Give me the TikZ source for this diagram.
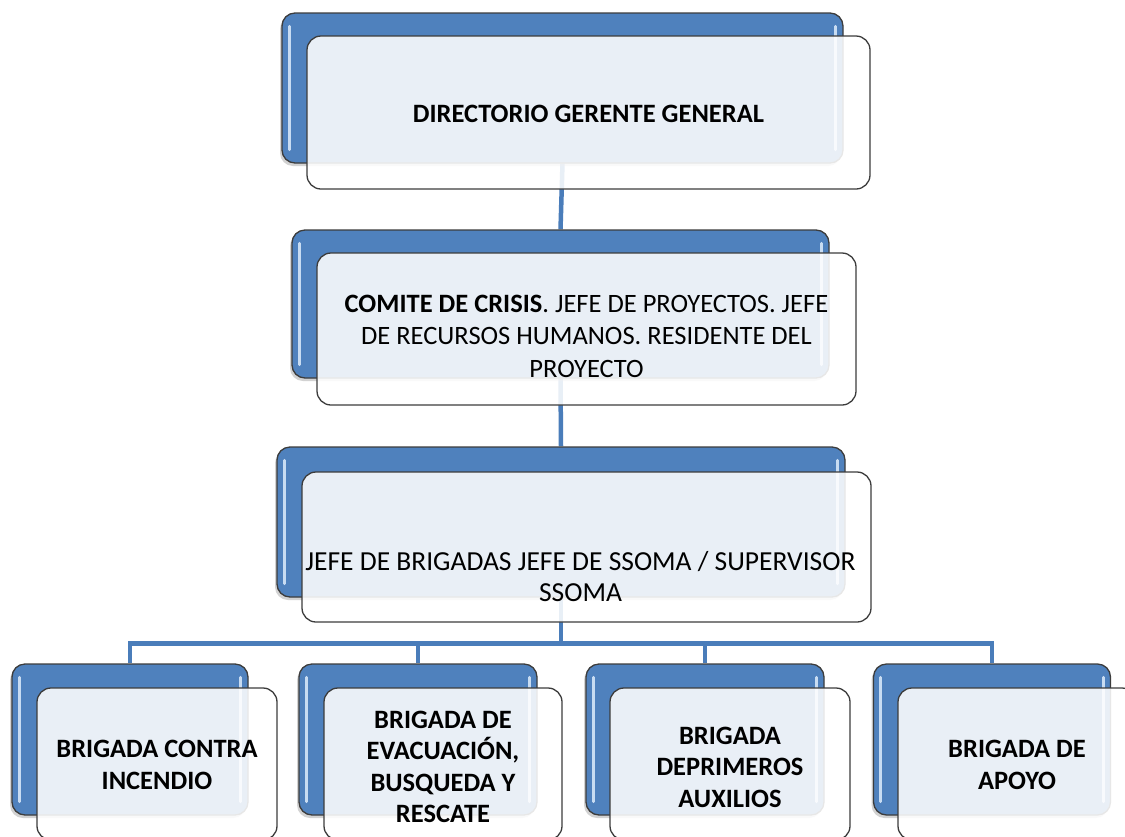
\documentclass[tikz,border=0pt]{standalone}
\usepackage{fontspec}
\setmainfont{Carlito}
\usetikzlibrary{shadows,calc}
\pgfdeclarelayer{bg}
\pgfsetlayers{bg,main}
\definecolor{bluebox}{HTML}{4F81BD}
\definecolor{bluehi}{HTML}{D6E6F8}
\definecolor{conncol}{HTML}{4A7DBA}
\definecolor{edgecol}{HTML}{3C3C3C}
\tikzset{
  backbox/.style={draw=edgecol, line width=1.3pt, fill=bluebox, rounded corners=13pt,
    inner sep=0pt, drop shadow={shadow xshift=-2pt, shadow yshift=-3pt, opacity=0.35}},
  frontbox/.style={draw=edgecol, line width=1.3pt, fill=white, fill opacity=0.88,
    rounded corners=14pt, inner sep=0pt},
  uptext/.style={align=center, inner sep=0pt, font=\fontsize{26.5}{32.5}\selectfont},
  midtext/.style={align=center, inner sep=0pt, font=\fontsize{27.5}{31}\selectfont},
  lowtext/.style={align=center, inner sep=0pt, font=\fontsize{26.5}{31.5}\selectfont\bfseries},
  hilite/.style={draw=bluehi, line width=3pt, line cap=round, opacity=0.9},
  conn/.style={draw=conncol, line width=4.5pt}
}
\newcommand{\hibars}[1]{%
  \draw[hilite] ($(#1.north west)+(8,14)$) -- ($(#1.south west)+(8,-14)$);
  \draw[hilite] ($(#1.north east)+(-8,14)$) -- ($(#1.south east)+(-8,-14)$);
}
\begin{document}
\begin{tikzpicture}[x=1pt,y=-1pt]
\useasboundingbox (0,0) rectangle (1125,836);

% back (blue) boxes
\node[backbox, minimum width=561pt, minimum height=150pt] (b1) at (562.5,88) {};
\node[backbox, minimum width=537pt, minimum height=148pt] (b2) at (560.5,304) {};
\node[backbox, minimum width=568pt, minimum height=150pt] (b3) at (561,522) {};
\node[backbox, minimum width=236pt, minimum height=151pt] (c1) at (130,739.5) {};
\node[backbox, minimum width=238pt, minimum height=151pt] (c2) at (418,739.5) {};
\node[backbox, minimum width=238pt, minimum height=151pt] (c3) at (705,739.5) {};
\node[backbox, minimum width=237pt, minimum height=151pt] (c4) at (992,739.5) {};
\hibars{b1}\hibars{b2}\hibars{b3}\hibars{c1}\hibars{c2}\hibars{c3}\hibars{c4}

% connectors
\begin{pgfonlayer}{bg}
\fill[white] (0,0) rectangle (1125,836);
\draw[conn] (b1.south) -- (b2.north);
\draw[conn] (b2.south) -- (b3.north);
\coordinate (j) at ($(b3.south)+(0,46)$);
\draw[conn] (b3.south) -- (j);
\draw[conn] (j) -| (c1.north);
\draw[conn] (j) -| (c2.north);
\draw[conn] (j) -| (c3.north);
\draw[conn] (j) -| (c4.north);
\end{pgfonlayer}

% front boxes
\node[frontbox, minimum width=563pt, minimum height=153pt] (f1) at (588.5,112.5) {};
\node[frontbox, minimum width=539pt, minimum height=152pt] (f2) at (586.5,329) {};
\node[frontbox, minimum width=569pt, minimum height=150pt] (f3) at (586.5,547) {};
\node[frontbox, minimum width=240pt, minimum height=152pt] (g1) at (157,764) {};
\node[frontbox, minimum width=238pt, minimum height=152pt] (g2) at (443,764) {};
\node[frontbox, minimum width=240pt, minimum height=152pt] (g3) at (730,764) {};
\node[frontbox, minimum width=238pt, minimum height=152pt] (g4) at (1017,764) {};

% texts
\node[uptext] (t1) at ($(f1.center)+(0,1)$) {\textbf{DIRECTORIO GERENTE GENERAL}};
\node[uptext] (t2) at ($(f2.center)+(0,7)$)
  {\textbf{COMITE DE CRISIS}. JEFE DE PROYECTOS. JEFE\\DE RECURSOS HUMANOS. RESIDENTE DEL\\PROYECTO};
\node[midtext] (t3) at ($(f3.center)+(-6,30)$) {JEFE DE BRIGADAS JEFE DE SSOMA / SUPERVISOR\\SSOMA};
\node[lowtext] (u1) at ($(g1.center)+(0,1)$) {BRIGADA CONTRA\\INCENDIO};
\node[lowtext] (u2) at ($(g2.center)+(0,3)$) {BRIGADA DE\\EVACUACIÓN,\\BUSQUEDA Y\\RESCATE};
\node[lowtext] (u3) at ($(g3.center)+(0,3)$) {BRIGADA\\DEPRIMEROS\\AUXILIOS};
\node[lowtext] (u4) at ($(g4.center)+(0,1)$) {BRIGADA DE\\APOYO};
\end{tikzpicture}
\end{document}
